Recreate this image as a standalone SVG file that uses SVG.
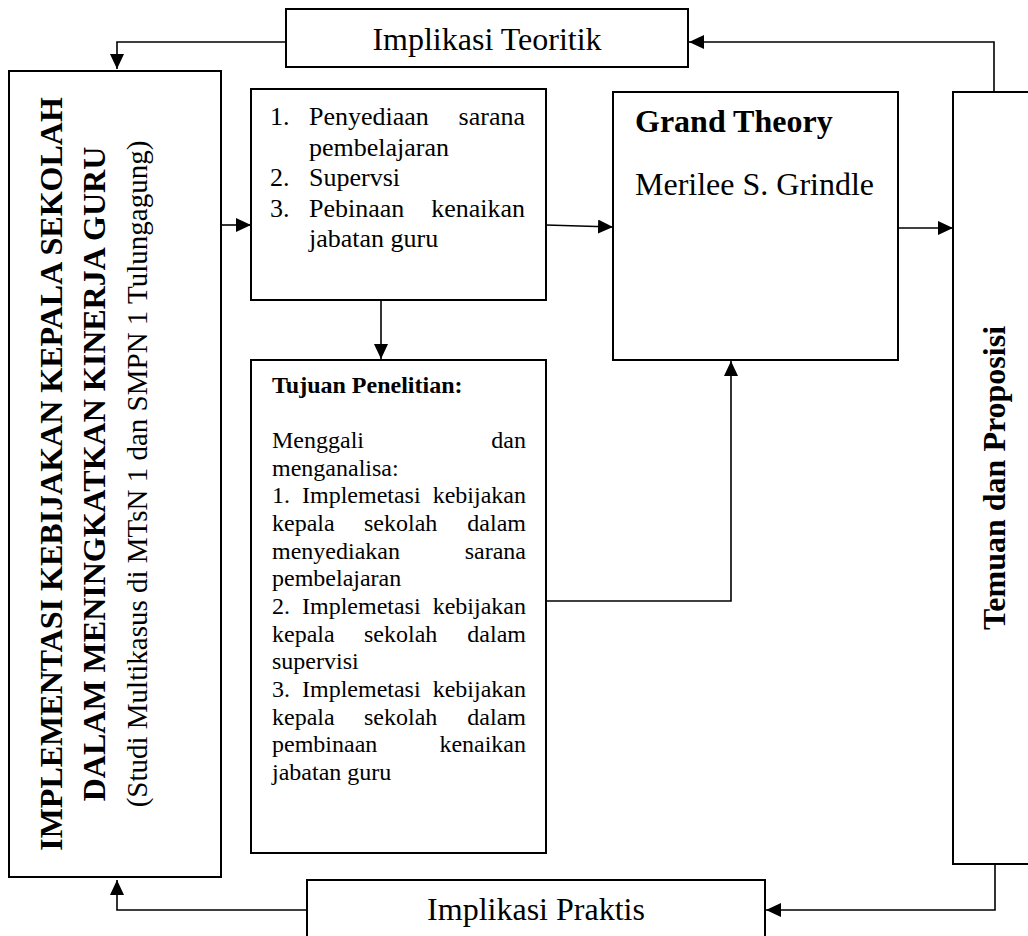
<svg xmlns="http://www.w3.org/2000/svg" width="1028" height="936" viewBox="0 0 1028 936">
<style>
.box{fill:#fff;stroke:#000;stroke-width:2}
.ln{fill:none;stroke:#000;stroke-width:1.6}
text{font-family:"Liberation Serif","Times New Roman",serif;fill:#000}
.t32{font-size:32px}
.b32{font-size:32px;font-weight:bold}
.t29{font-size:29px}
.t26{font-size:26px}
.t24{font-size:24px}
.b24{font-size:24px;font-weight:bold}
.e{text-anchor:end}
.m{text-anchor:middle}
</style>
<defs>
<marker id="ah" markerUnits="userSpaceOnUse" markerWidth="16" markerHeight="14" refX="15" refY="7" orient="auto">
<path d="M0,0 L15,7 L0,14 z" fill="#000"/>
</marker>
</defs>
<rect width="1028" height="936" fill="#fff"/>

<g id="connectors">
<polyline class="ln" points="286,42 117,42 117,69" marker-end="url(#ah)"/>
<polyline class="ln" points="994,92 994,42 689,42" marker-end="url(#ah)"/>
<line class="ln" x1="221" y1="225" x2="251" y2="225" marker-end="url(#ah)"/>
<line class="ln" x1="546" y1="225" x2="613" y2="227" marker-end="url(#ah)"/>
<line class="ln" x1="381" y1="300" x2="381" y2="359" marker-end="url(#ah)"/>
<polyline class="ln" points="546,601 731,601 731,361" marker-end="url(#ah)"/>
<line class="ln" x1="898" y1="228" x2="953" y2="228" marker-end="url(#ah)"/>
<polyline class="ln" points="995,864 995,910 766,910" marker-end="url(#ah)"/>
<polyline class="ln" points="307,910 117,910 117,880" marker-end="url(#ah)"/>
</g>

<g id="implikasi-teoritik">
<rect class="box" x="286" y="9" width="402" height="58"/>
<text class="t32 m" x="487" y="50">Implikasi Teoritik</text>
</g>

<g id="judul">
<rect class="box" x="9" y="71" width="212" height="806"/>
<text class="b32 m" transform="translate(62,474) rotate(-90)">IMPLEMENTASI KEBIJAKAN KEPALA SEKOLAH</text>
<text class="b32 m" transform="translate(105,474) rotate(-90)">DALAM MENINGKATKAN KINERJA GURU</text>
<text class="t29 m" transform="translate(147,474) rotate(-90)">(Studi Multikasus di MTsN 1 dan SMPN 1 Tulungagung)</text>
</g>

<g id="fokus">
<rect class="box" x="251" y="89" width="295" height="211"/>
<text class="t26" x="270" y="125">1.</text>
<text class="t26" x="309" y="125">Penyediaan</text>
<text class="t26 e" x="525" y="125">sarana</text>
<text class="t26" x="309" y="156">pembelajaran</text>
<text class="t26" x="270" y="186">2.</text>
<text class="t26" x="309" y="186">Supervsi</text>
<text class="t26" x="270" y="217">3.</text>
<text class="t26" x="309" y="217">Pebinaan</text>
<text class="t26 e" x="525" y="217">kenaikan</text>
<text class="t26" x="309" y="247">jabatan guru</text>
</g>

<g id="tujuan">
<rect class="box" x="251" y="360" width="295" height="493"/>
<text class="b24" x="272" y="393">Tujuan Penelitian:</text>
<text class="t24" x="272" y="448">Menggali</text>
<text class="t24 e" x="526" y="448">dan</text>
<text class="t24" x="272" y="476">menganalisa:</text>
<text class="t24" x="272" y="503">1.</text>
<text class="t24" x="302" y="503">Implemetasi</text>
<text class="t24 e" x="526" y="503">kebijakan</text>
<text class="t24" x="272" y="531">kepala</text>
<text class="t24" x="364" y="531">sekolah</text>
<text class="t24 e" x="526" y="531">dalam</text>
<text class="t24" x="272" y="559">menyediakan</text>
<text class="t24 e" x="526" y="559">sarana</text>
<text class="t24" x="272" y="586">pembelajaran</text>
<text class="t24" x="272" y="614">2.</text>
<text class="t24" x="302" y="614">Implemetasi</text>
<text class="t24 e" x="526" y="614">kebijakan</text>
<text class="t24" x="272" y="642">kepala</text>
<text class="t24" x="364" y="642">sekolah</text>
<text class="t24 e" x="526" y="642">dalam</text>
<text class="t24" x="272" y="669">supervisi</text>
<text class="t24" x="272" y="697">3.</text>
<text class="t24" x="302" y="697">Implemetasi</text>
<text class="t24 e" x="526" y="697">kebijakan</text>
<text class="t24" x="272" y="725">kepala</text>
<text class="t24" x="364" y="725">sekolah</text>
<text class="t24 e" x="526" y="725">dalam</text>
<text class="t24" x="272" y="752">pembinaan</text>
<text class="t24 e" x="526" y="752">kenaikan</text>
<text class="t24" x="272" y="780">jabatan guru</text>
</g>

<g id="grand-theory">
<rect class="box" x="613" y="92" width="285" height="268"/>
<text class="b32" x="635" y="132">Grand Theory</text>
<text class="t32" x="635" y="195">Merilee S. Grindle</text>
</g>

<g id="temuan">
<rect class="box" x="953" y="92" width="100" height="772"/>
<text class="b32 m" transform="translate(1005,478) rotate(-90)">Temuan dan Proposisi</text>
</g>

<g id="implikasi-praktis">
<rect class="box" x="307" y="880" width="458" height="80"/>
<text class="t32 m" x="536" y="920">Implikasi Praktis</text>
</g>
</svg>
